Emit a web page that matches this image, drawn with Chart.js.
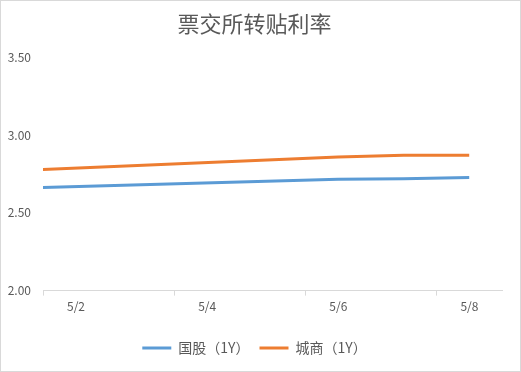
<!DOCTYPE html>
<html>
<head>
<meta charset="utf-8">
<script src="https://cdn.jsdelivr.net/npm/chart.js@4"></script>
<style>
	body { margin: 0; background: #fff; }
	#wrap { width: 521px; height: 372px; box-sizing: border-box; border: 1px solid #d9d9d9; }
	canvas { display: block; }
</style>
</head>
<body>
<div id="wrap"><canvas id="rateChart" width="519" height="370"></canvas></div>
<script>
// dates of the quotes (the May Day holiday has no data)
const dates = ["4/30", "5/6", "5/7", "5/8"];
const guoGu = [2.645, 2.717, 2.72, 2.727];
const chengShang = [2.752, 2.86, 2.871, 2.871];
const tickLabels = ["5/2", "5/4", "5/6", "5/8"];
const tickDays = [1.5, 3.5, 5.5, 7.5];
const yTicks = [2.0, 2.5, 3.0, 3.5];

// day number in May (4/30 -> 0)
const dayNum = (s) => {
	const [m, d] = s.split("/").map(Number);
	return m === 5 ? d : d - 30;
};
const toPoints = (values) => values.map((v, i) => ({ x: dayNum(dates[i]), y: v }));

const font = "'Noto Sans CJK SC', 'Noto Sans', sans-serif";
const grey = "#595959";

new Chart(document.getElementById("rateChart"), {
	type: "line",
	data: {
		datasets: [
			{
				label: "国股（1Y）",
				data: toPoints(guoGu),
				borderColor: "#5B9BD5",
				backgroundColor: "#5B9BD5",
				borderWidth: 3,
				pointRadius: 0,
				clip: 0,
			},
			{
				label: "城商（1Y）",
				data: toPoints(chengShang),
				borderColor: "#ED7D31",
				backgroundColor: "#ED7D31",
				borderWidth: 3,
				pointRadius: 0,
				clip: 0,
			},
		],
	},
	options: {
		responsive: false,
		animation: false,
		layout: { padding: { left: 6, right: 18, bottom: 6 } },
		scales: {
			x: {
				type: "linear",
				min: 1.5,
				max: 8.5,
				afterBuildTicks: (scale) => {
					scale.ticks = tickDays.map((value) => ({ value }));
				},
				afterFit: (scale) => {
					scale.height += 13;
				},
				border: { color: "#d9d9d9" },
				grid: { drawOnChartArea: false, tickLength: 5, color: "#d9d9d9" },
				ticks: {
					autoSkip: false,
					maxRotation: 0,
					labelOffset: 33,
					padding: 4,
					color: grey,
					font: { family: font, size: 12 },
					callback: (value, index) => tickLabels[index],
				},
			},
			y: {
				min: 2,
				max: 3.5,
				afterBuildTicks: (scale) => {
					scale.ticks = yTicks.map((value) => ({ value }));
				},
				afterFit: (scale) => {
					scale.width = 36;
				},
				border: { display: false },
				grid: { display: false, drawTicks: false },
				ticks: {
					padding: 12,
					color: grey,
					font: { family: font, size: 12 },
					callback: (value) => value.toFixed(2),
				},
			},
		},
		plugins: {
			title: {
				display: true,
				text: "票交所转贴利率",
				color: grey,
				font: { family: font, size: 22, weight: "normal" },
				padding: { top: 9, bottom: 21 },
			},
			legend: {
				position: "bottom",
				labels: {
					boxWidth: 29,
					boxHeight: 3,
					color: grey,
					font: { family: font, size: 14 },
					padding: 10,
					generateLabels: (chart) =>
						Chart.defaults.plugins.legend.labels.generateLabels(chart).map((item) => ({ ...item, lineWidth: 0 })),
				},
			},
			tooltip: { enabled: false },
		},
	},
});
</script>
</body>
</html>
